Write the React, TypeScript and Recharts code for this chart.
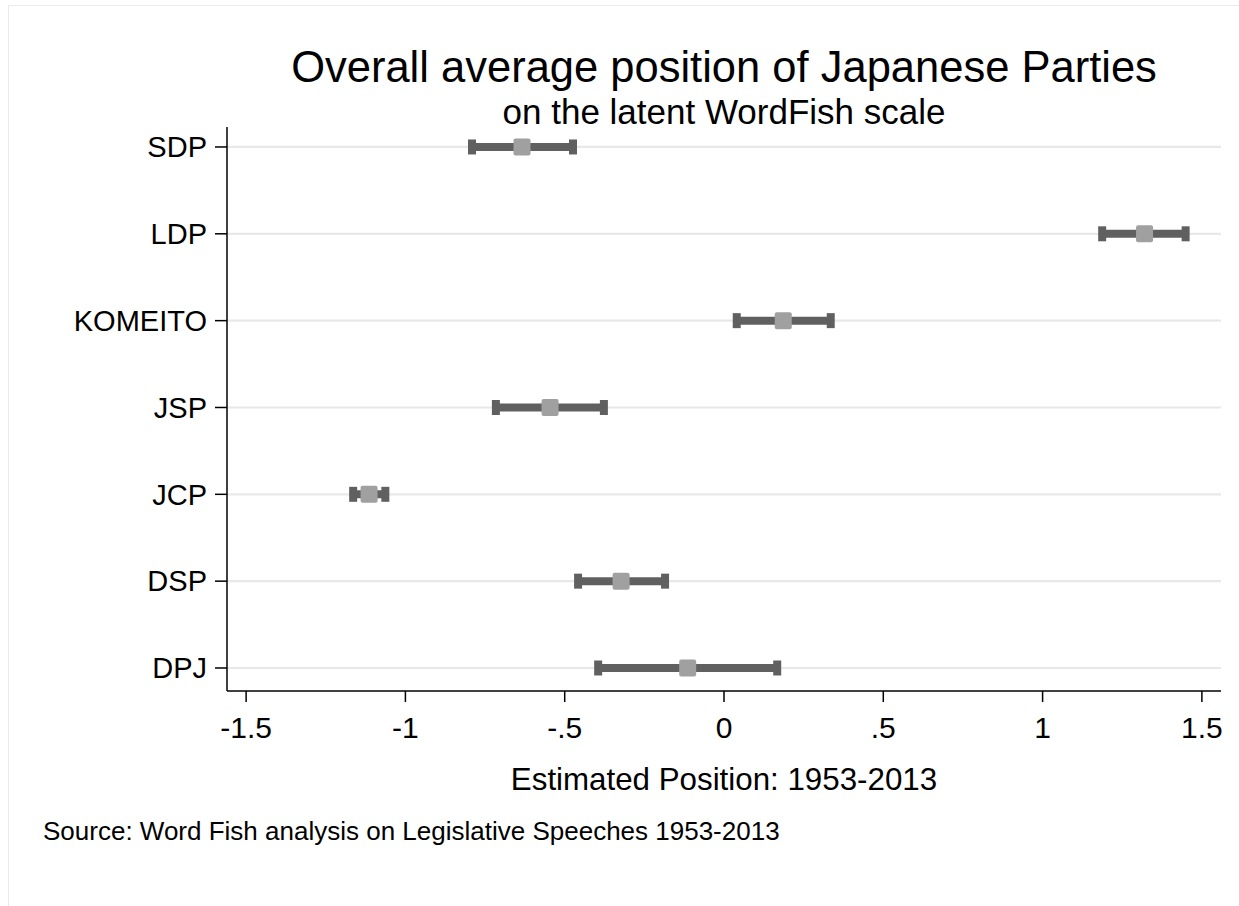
import React from "react";
import {
  ScatterChart,
  Scatter,
  XAxis,
  YAxis,
  ReferenceLine,
  ErrorBar,
} from "recharts";

// parties listed bottom -> top (index 0 is the lowest row)
const parties = ["DPJ", "DSP", "JCP", "JSP", "KOMEITO", "LDP", "SDP"];
const means = [-0.114, -0.323, -1.114, -0.546, 0.186, 1.32, -0.634];
const lower = [-0.395, -0.458, -1.164, -0.716, 0.04, 1.187, -0.791];
const upper = [0.167, -0.185, -1.063, -0.377, 0.335, 1.449, -0.474];

const xTicks = [-1.5, -1, -0.5, 0, 0.5, 1, 1.5];
const xTickLabels = ["-1.5", "-1", "-.5", "0", ".5", "1", "1.5"];

const data = parties.map((name, i) => ({
  party: name,
  row: i,
  mean: means[i],
  err: [means[i] - lower[i], upper[i] - means[i]],
}));

const FONT = '"Liberation Sans", Arial, Helvetica, sans-serif';

const MeanSquare = (props: any) => {
  const { cx, cy } = props;
  return (
    <rect x={cx - 8.5} y={cy - 8.5} width={17} height={17} rx={2} fill="#a0a0a0" />
  );
};

export default function App() {
  return (
    <div
      style={{
        position: "absolute",
        left: 0,
        top: 0,
        width: 1239,
        height: 906,
        overflow: "hidden",
        background: "#fff",
        fontFamily: FONT,
      }}
    >
      {/* faint frame, only top and left edges fall inside the picture */}
      <div
        style={{
          position: "absolute",
          left: 8,
          top: 5,
          width: 1400,
          height: 1100,
          border: "1px solid #ebebeb",
        }}
      />

      <div style={{ position: "absolute", left: 0, top: 0 }}>
        <ScatterChart
          width={1239}
          height={906}
          margin={{ top: 127, right: 18, bottom: 155, left: 0 }}
        >
          {parties.map((p, i) => (
            <ReferenceLine key={p} y={i} stroke="#e8e8e8" strokeWidth={2.2} />
          ))}
          <XAxis
            type="number"
            dataKey="mean"
            domain={[-1.56, 1.56]}
            ticks={xTicks}
            interval={0}
            tickFormatter={(v: number) => xTickLabels[xTicks.indexOf(v)] ?? String(v)}
            height={60}
            tickSize={11}
            tickMargin={15}
            axisLine={{ stroke: "#000", strokeWidth: 1.5 }}
            tickLine={{ stroke: "#000", strokeWidth: 1.5 }}
            tick={{ fill: "#000", fontSize: 30, fontFamily: FONT }}
          />
          <YAxis
            type="number"
            dataKey="row"
            domain={[-0.265, 6.23]}
            ticks={[0, 1, 2, 3, 4, 5, 6]}
            interval={0}
            tickFormatter={(v: number) => parties[v] ?? ""}
            width={227}
            tickSize={12}
            tickMargin={8}
            axisLine={{ stroke: "#000", strokeWidth: 1.5 }}
            tickLine={{ stroke: "#000", strokeWidth: 1.5 }}
            tick={{ fill: "#000", fontSize: 29, fontFamily: FONT }}
          />
          <Scatter data={data} shape={<MeanSquare />} isAnimationActive={false}>
            <ErrorBar
              dataKey="err"
              direction="x"
              width={7.5}
              stroke="#606060"
              strokeWidth={8}
              isAnimationActive={false}
            />
          </Scatter>
        </ScatterChart>
      </div>

      {/* titles */}
      <div
        style={{
          position: "absolute",
          left: 224,
          width: 1000,
          top: 46,
          textAlign: "center",
          fontSize: 43.5,
          lineHeight: "43.5px",
          color: "#000",
          whiteSpace: "nowrap",
        }}
      >
        Overall average position of Japanese Parties
      </div>
      <div
        style={{
          position: "absolute",
          left: 224,
          width: 1000,
          top: 94,
          textAlign: "center",
          fontSize: 35,
          lineHeight: "35px",
          color: "#000",
          whiteSpace: "nowrap",
        }}
      >
        on the latent WordFish scale
      </div>
      <div
        style={{
          position: "absolute",
          left: 224,
          width: 1000,
          top: 764,
          textAlign: "center",
          fontSize: 31.3,
          lineHeight: "31.3px",
          color: "#000",
          whiteSpace: "nowrap",
        }}
      >
        Estimated Position: 1953-2013
      </div>
      <div
        style={{
          position: "absolute",
          left: 43,
          top: 818,
          fontSize: 26,
          lineHeight: "26px",
          color: "#000",
          whiteSpace: "nowrap",
        }}
      >
        Source: Word Fish analysis on Legislative Speeches 1953-2013
      </div>
    </div>
  );
}
